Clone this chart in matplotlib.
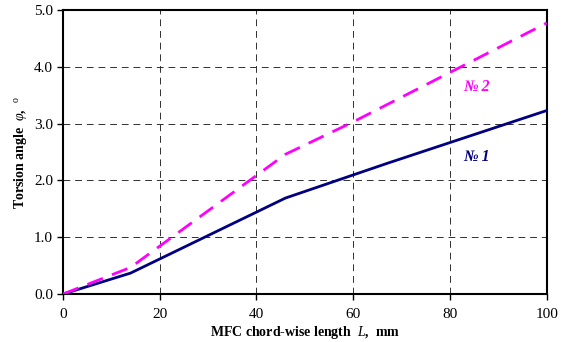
import matplotlib
matplotlib.use("Agg")
import matplotlib.pyplot as plt

# MFC chord-wise length, mm / torsion angle, deg
len_1 = [0, 14, 46, 67, 100]
phi_1 = [0.0, 0.37, 1.69, 2.30, 3.23]
len_2 = [0, 14, 46, 60, 100]
phi_2 = [0.0, 0.47, 2.46, 3.03, 4.77]

x_ticks = [0, 20, 40, 60, 80, 100]
y_ticks = [0.0, 1.0, 2.0, 3.0, 4.0, 5.0]

NAVY = "#000080"
MAGENTA = "#ff00ff"

plt.rcParams["font.family"] = ["Liberation Serif", "DejaVu Serif"]
plt.rcParams["mathtext.fontset"] = "custom"
plt.rcParams["mathtext.it"] = "Liberation Serif:italic"
plt.rcParams["mathtext.rm"] = "Liberation Serif"

fig = plt.figure(figsize=(5.66, 3.42), dpi=100)
ax = fig.add_axes([0.111, 0.140, 0.855, 0.831])

ax.plot(len_1, phi_1, color=NAVY, lw=2, zorder=3)
ax.plot(len_2, phi_2, color=MAGENTA, lw=2, dashes=(6, 3.5), zorder=3)

ax.set_xlim(0, 100)
ax.set_ylim(0, 5)
ax.set_xticks(x_ticks)
ax.set_yticks(y_ticks)
ax.set_xticklabels([str(v) for v in x_ticks], fontsize=11)
ax.set_yticklabels([f"{v:.1f}" for v in y_ticks], fontsize=11)
ax.tick_params(direction="out", length=4, width=1)
ax.tick_params(axis="x", pad=6)
ax.tick_params(axis="y", pad=3)
ax.grid(True, color="#303030", ls=(0, (7, 5)), lw=0.7)
for s in ax.spines.values():
    s.set_linewidth(1.5)

ax.text(85.5, 3.64, "№ 2", color=MAGENTA, fontsize=11.5, fontweight="bold",
        style="italic", ha="center", va="center")
ax.text(85.5, 2.41, "№ 1", color=NAVY, fontsize=11.5, fontweight="bold",
        style="italic", ha="center", va="center")

ax.set_xlabel(r"MFC chord-wise length  $L$,  mm", fontsize=10, fontweight="bold",
              labelpad=2)
ax.set_ylabel(r"Torsion angle  $\varphi$,  $^{\mathrm{o}}$", fontsize=10,
              fontweight="bold", labelpad=4)

fig.savefig("out.png", dpi=100)
